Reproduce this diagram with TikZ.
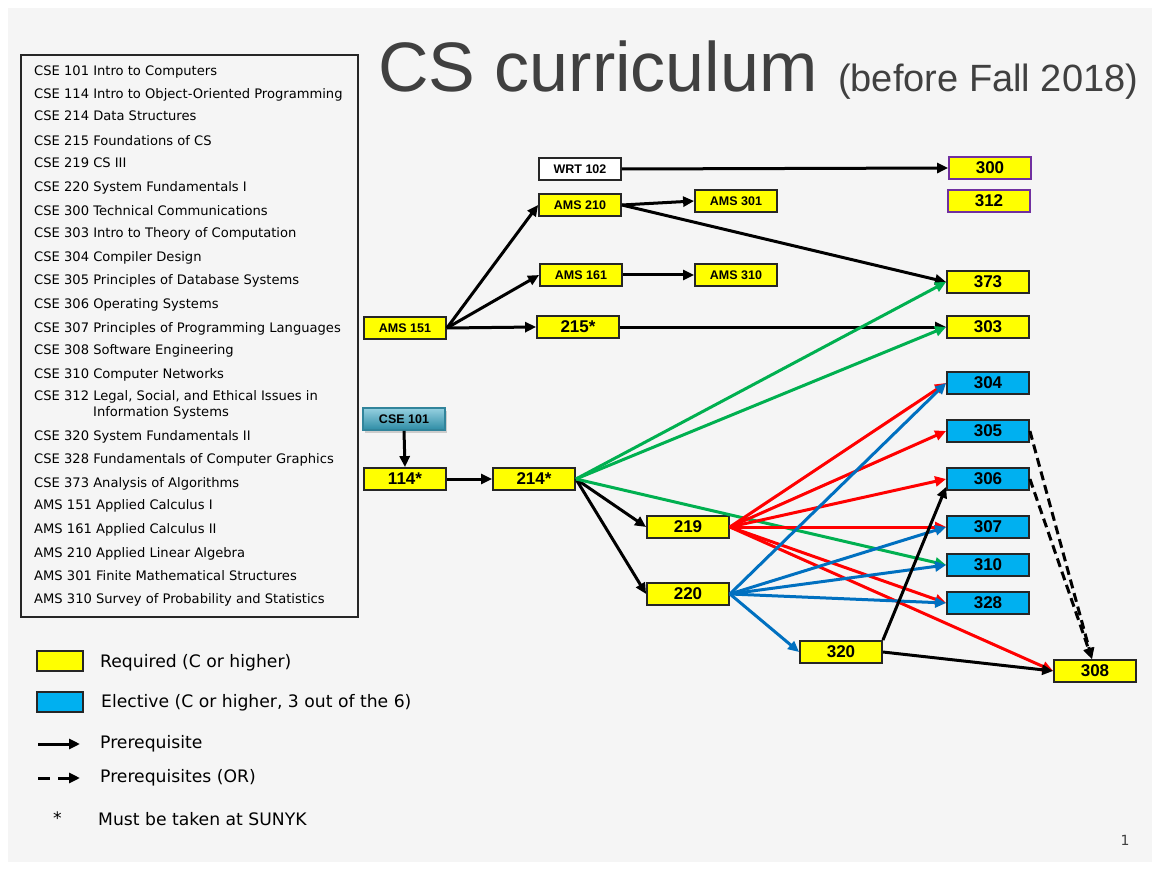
\documentclass[tikz,border=0pt]{standalone}
\usepackage{fontspec}
\setmainfont{Liberation Sans}
\newfontfamily\verd{DejaVu Sans}
\usetikzlibrary{arrows.meta,shadows,calc}
\definecolor{ylw}{HTML}{FFFF00}
\definecolor{elec}{HTML}{00B0F0}
\definecolor{grn}{HTML}{00B050}
\definecolor{redl}{HTML}{FF0000}
\definecolor{bluel}{HTML}{0070C0}
\definecolor{purp}{HTML}{7030A0}
\definecolor{bord}{HTML}{262626}
\definecolor{titlec}{HTML}{404040}
\definecolor{bgc}{HTML}{F5F5F5}
\definecolor{tealb}{HTML}{31849B}
\tikzset{
  box/.style={draw=bord, line width=1.8pt, minimum width=82pt, minimum height=22pt, inner sep=0pt, font=\fontsize{17}{17}\selectfont\bfseries},
  smallbox/.style={box, font=\fontsize{12.5}{12.5}\selectfont\bfseries},
  req/.style={box, fill=ylw},
  ele/.style={box, fill=elec},
  arr/.style={line width=3pt, -{Triangle[length=11pt,width=10pt]}},
  lst/.style={font=\verd\fontsize{13.1}{14}\selectfont, inner sep=0pt, anchor=mid west},
  leg/.style={font=\verd\fontsize{17.2}{18}\selectfont, inner sep=0pt, anchor=mid west},
}
\begin{document}
\begin{tikzpicture}[x=1pt,y=-1pt]
\useasboundingbox (0,0) rectangle (1160,869);
\fill[bgc] (8,8) rectangle (1152,862);

% title
\node[anchor=base west, inner sep=0pt, text=titlec, font=\fontsize{70}{70}\selectfont] (title) at (378,92) {CS curriculum};
\node[anchor=base west, inner sep=0pt, text=titlec, font=\fontsize{38}{38}\selectfont] (subtitle) at (838,92) {(before Fall 2018)};

% course list
\draw[line width=1.5pt, draw=bord] (21,55) rectangle (358,617);
\begin{scope}[yshift=-3pt]
\node[lst] (l1) at (34,70) {CSE 101 Intro to Computers};
\node[lst] (l2) at (34,93) {CSE 114 Intro to Object-Oriented Programming};
\node[lst] (l3) at (34,115) {CSE 214 Data Structures};
\node[lst] (l4) at (34,140) {CSE 215 Foundations of CS};
\node[lst] (l5) at (34,162) {CSE 219 CS III};
\node[lst] (l6) at (34,186) {CSE 220 System Fundamentals I};
\node[lst] (l7) at (34,210) {CSE 300 Technical Communications};
\node[lst] (l8) at (34,232) {CSE 303 Intro to Theory of Computation};
\node[lst] (l9) at (34,256) {CSE 304 Compiler Design};
\node[lst] (l10) at (34,279) {CSE 305 Principles of Database Systems};
\node[lst] (l11) at (34,303) {CSE 306 Operating Systems};
\node[lst] (l12) at (34,327) {CSE 307 Principles of Programming Languages};
\node[lst] (l13) at (34,349) {CSE 308 Software Engineering};
\node[lst] (l14) at (34,373) {CSE 310 Computer Networks};
\node[lst] (l15) at (34,395) {CSE 312 Legal, Social, and Ethical Issues in};
\node[lst] (l15b) at (93,411) {Information Systems};
\node[lst] (l16) at (34,435) {CSE 320 System Fundamentals II};
\node[lst] (l17) at (34,458) {CSE 328 Fundamentals of Computer Graphics};
\node[lst] (l18) at (34,482) {CSE 373 Analysis of Algorithms};
\node[lst] (l19) at (34,504) {AMS 151 Applied Calculus I};
\node[lst] (l20) at (34,528) {AMS 161 Applied Calculus II};
\node[lst] (l21) at (34,552) {AMS 210 Applied Linear Algebra};
\node[lst] (l22) at (34,575) {AMS 301 Finite Mathematical Structures};
\node[lst] (l23) at (34,598) {AMS 310 Survey of Probability and Statistics};
\end{scope}

% nodes
\node[smallbox, fill=white] (wrt) at (580,169) {WRT 102};
\node[smallbox, fill=ylw] (a210) at (580,205) {AMS 210};
\node[smallbox, fill=ylw] (a301) at (736,201) {AMS 301};
\node[smallbox, fill=ylw] (a161) at (581,275) {AMS 161};
\node[smallbox, fill=ylw] (a310) at (736,275) {AMS 310};
\node[smallbox, fill=ylw] (a151) at (405,328) {AMS 151};
\node[req] (c215) at (578,327) {215*};
\node[req, draw=purp] (c300) at (990,168) {300};
\node[req, draw=purp] (c312) at (989,201) {312};
\node[req] (c373) at (988,282) {373};
\node[req] (c303) at (988,327) {303};
\node[ele] (c304) at (988,383) {304};
\node[ele] (c305) at (988,431) {305};
\node[ele] (c306) at (988,479) {306};
\node[ele] (c307) at (988,527) {307};
\node[ele] (c310) at (988,565) {310};
\node[ele] (c328) at (988,603) {328};
\node[req] (c308) at (1095,671) {308};
\node[smallbox, draw=tealb, top color={rgb,255:red,150;green,208;blue,224}, bottom color={rgb,255:red,45;green,140;blue,165}, drop shadow={opacity=0.35, shadow xshift=2pt, shadow yshift=-3pt}] (c101) at (404,419) {CSE 101};
\node[req] (c114) at (405,479) {114*};
\node[req] (c214) at (534,479) {214*};
\node[req] (c219) at (688,527) {219};
\node[req] (c220) at (688,594) {220};
\node[req] (c320) at (841,652) {320};

% black edges
\draw[arr] (a151.east) -- (a210.west);
\draw[arr] (a151.east) -- (a161.west);
\draw[arr] (a151.east) -- (c215.west);
\draw[arr] (wrt.east) -- (c300.west);
\draw[arr] (a210.east) -- (a301.west);
\draw[arr] (a210.east) -- (c373.west);
\draw[arr] (a161.east) -- (a310.west);
\draw[arr] (c215.east) -- (c303.west);
\draw[arr] (c101.south) -- (c114.north);
\draw[arr] (c114.east) -- (c214.west);
\draw[arr] (c214.east) -- (c219.west);
\draw[arr] (c214.east) -- (c220.west);

% green edges
\draw[arr, grn] (c214.east) -- (c373.west);
\draw[arr, grn] (c214.east) -- (c303.west);
\draw[arr, grn] (c214.east) -- (c310.west);

% red edges
\draw[arr, redl] (c219.east) -- (c304.west);
\draw[arr, redl] (c219.east) -- (c305.west);
\draw[arr, redl] (c219.east) -- (c306.west);
\draw[arr, redl] (c219.east) -- (c307.west);
\draw[arr, redl] (c219.east) -- (c328.west);
\draw[arr, redl] (c219.east) -- (c308.west);

% blue edges
\draw[arr, bluel] (c220.east) -- (c304.west);
\draw[arr, bluel] (c220.east) -- (c307.west);
\draw[arr, bluel] (c220.east) -- (c310.west);
\draw[arr, bluel] (c220.east) -- (c328.west);
\draw[arr, bluel] (c220.east) -- (c320.west);

% 320 edges
\draw[arr] (c320.north east) -- ($(c306.south west)+(0,-4)$);
\draw[arr] (c320.east) -- (c308.west);

% OR edges
\draw[arr, dash pattern=on 9pt off 5pt] (c305.east) -- ($(c308.north)+(-3,0)$);
\draw[arr, dash pattern=on 9pt off 5pt] (c306.east) -- ($(c308.north)+(-3,0)$);

% legend
\node[draw=bord, line width=1.5pt, fill=ylw, minimum width=46pt, minimum height=20pt, inner sep=0pt] (lgy) at (60,661) {};
\node[leg] (lgyt) at (100,665) {Required (C or higher)};
\node[draw=bord, line width=1.5pt, fill=elec, minimum width=46pt, minimum height=20pt, inner sep=0pt] (lgb) at (60,702) {};
\node[leg] (lgbt) at (101,705) {Elective (C or higher, 3 out of the 6)};
\coordinate (la1) at (38,744);
\coordinate (la2) at (80,744);
\draw[arr] (la1) -- (la2);
\node[leg] (lgat) at (100,746) {Prerequisite};
\coordinate (ld1) at (38,778);
\coordinate (ld2) at (80,778);
\draw[arr, dash pattern=on 12pt off 8pt] (ld1) -- (ld2);
\node[leg] (lgdt) at (100,780) {Prerequisites (OR)};
\node[leg] (lgs) at (53,822) {*};
\node[leg] (lgst) at (98,823) {Must be taken at SUNYK};

\node[font=\verd\fontsize{14}{14}\selectfont, text=titlec, inner sep=0pt] (pgnum) at (1125,840) {1};
\end{tikzpicture}
\end{document}
